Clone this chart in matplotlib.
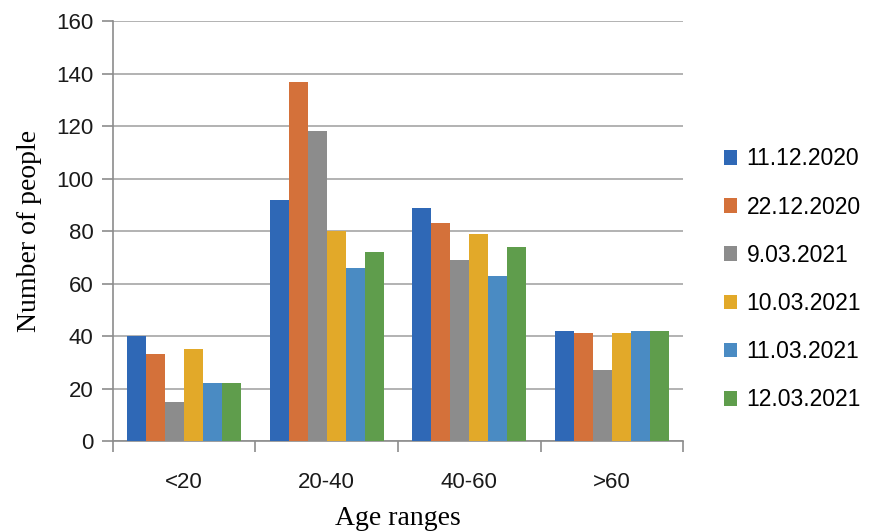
import numpy as np
from matplotlib import pyplot as plt

# age ranges on the x axis
categories = ['<20', '20-40', '40-60', '>60']

# one list per survey date
series_names = ['11.12.2020', '22.12.2020', '9.03.2021',
                '10.03.2021', '11.03.2021', '12.03.2021']
v_11_12_2020 = [40, 92, 89, 42]
v_22_12_2020 = [33, 137, 83, 41]
v_09_03_2021 = [15, 118, 69, 27]
v_10_03_2021 = [35, 80, 79, 41]
v_11_03_2021 = [22, 66, 63, 42]
v_12_03_2021 = [22, 72, 74, 42]
series_values = [v_11_12_2020, v_22_12_2020, v_09_03_2021,
                 v_10_03_2021, v_11_03_2021, v_12_03_2021]

colors = ['#2f68b6', '#d4713a', '#8c8c8c', '#e2a929', '#4a8bc3', '#5f9d4c']

fig = plt.figure(figsize=(8.69, 5.31), dpi=100)
ax = fig.add_axes([0.130, 0.1695, 0.656, 0.7905])

x = np.arange(len(categories))
n = len(series_values)
bw = 0.8 / n
for i, vals in enumerate(series_values):
    ax.bar(x - 0.4 + bw * (i + 0.5), vals, width=bw, color=colors[i],
           label=series_names[i], zorder=3)

ax.set_xlim(-0.5, len(categories) - 0.5)
ax.set_ylim(0, 160)
ax.set_yticks(np.arange(0, 161, 20))
ax.yaxis.grid(True, color='#a6a6a6', linewidth=1.2, zorder=0)

# category ticks sit on the boundaries between groups
ax.set_xticks(np.arange(-0.5, len(categories), 1.0))
ax.set_xticklabels([])
ax.set_xticks(x, minor=True)
ax.set_xticklabels(categories, minor=True)
ax.tick_params(axis='x', which='major', length=8, color='#8c8c8c', width=1.2)
ax.tick_params(axis='x', which='minor', length=0, pad=22, labelsize=16,
               labelcolor='#1a1a1a')
ax.tick_params(axis='y', length=8, color='#8c8c8c', width=1.2, labelsize=16,
               labelcolor='#1a1a1a', pad=6)
for lab in ax.get_xticklabels(minor=True) + ax.get_yticklabels():
    lab.set_family('Liberation Sans')

for s in ['top', 'right']:
    ax.spines[s].set_visible(False)
ax.spines['left'].set_color('#8c8c8c')
ax.spines['bottom'].set_color('#8c8c8c')
ax.spines['left'].set_linewidth(1.2)
ax.spines['bottom'].set_linewidth(1.2)

ax.set_ylabel('Number of people', family='Liberation Serif', fontsize=20,
              labelpad=10)
ax.set_xlabel('Age ranges', family='Liberation Serif', fontsize=20,
              labelpad=10)

leg = ax.legend(loc='center left', bbox_to_anchor=(1.035, 0.385), frameon=False,
                prop={'family': 'Liberation Sans', 'size': 16.5},
                handlelength=0.6, handleheight=0.6, handletextpad=0.4,
                labelspacing=1.1)

plt.savefig('out.png', dpi=100)
